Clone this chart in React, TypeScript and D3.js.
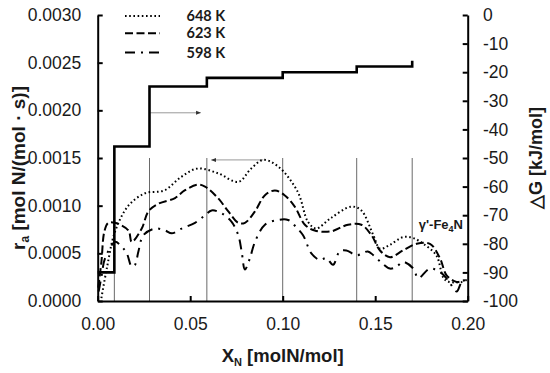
import { useEffect, useRef } from 'react';
import * as d3 from 'd3';

// Rate curves (X_N, r_a)
const x648 = [0.002, 0.005, 0.0094, 0.0166, 0.0256, 0.036, 0.045, 0.054, 0.065, 0.076, 0.083, 0.0895, 0.0976, 0.108, 0.1137, 0.118, 0.126, 0.137, 0.1425, 0.149, 0.1526, 0.158, 0.165, 0.1706, 0.176, 0.183, 0.187, 0.19, 0.1976];
const r648 = [0.00003, 0.00035, 0.00073, 0.001, 0.00113, 0.00116, 0.0013, 0.00139, 0.00134, 0.00125, 0.00139, 0.00148, 0.00141, 0.00115, 0.00083, 0.00076, 0.00087, 0.00099, 0.00095, 0.00069, 0.00055, 0.00059, 0.00067, 0.00066, 0.0006, 0.00048, 0.00024, 0.0002, 0.0002];

const x623 = [0.0003, 0.002, 0.0036, 0.0057, 0.0094, 0.0166, 0.0184, 0.0238, 0.0274, 0.0328, 0.0418, 0.047, 0.054, 0.058, 0.065, 0.0706, 0.076, 0.0796, 0.085, 0.0904, 0.0958, 0.101, 0.1065, 0.112, 0.1173, 0.126, 0.1353, 0.1425, 0.148, 0.1526, 0.158, 0.165, 0.1724, 0.1796, 0.185, 0.1886, 0.194, 0.1985];
const r623 = [0.00014, 0.00041, 0.00073, 0.00082, 0.00082, 0.00074, 0.00062, 0.00076, 0.00094, 0.00102, 0.00108, 0.00116, 0.00122, 0.0012, 0.00108, 0.00094, 0.00082, 0.00082, 0.00094, 0.00111, 0.00116, 0.00111, 0.00099, 0.0008, 0.00074, 0.00073, 0.0008, 0.0008, 0.00069, 0.00053, 0.00046, 0.00053, 0.0006, 0.0006, 0.00045, 0.00027, 0.0002, 0.00022];

const x598 = [0.0005, 0.002, 0.004, 0.0094, 0.012, 0.0157, 0.0184, 0.0202, 0.022, 0.0247, 0.031, 0.0364, 0.04, 0.0454, 0.0526, 0.058, 0.0616, 0.067, 0.0724, 0.076, 0.0778, 0.0796, 0.0823, 0.085, 0.0904, 0.0976, 0.1029, 0.107, 0.111, 0.1155, 0.12, 0.1236, 0.1272, 0.1308, 0.1344, 0.14, 0.146, 0.149, 0.1535, 0.158, 0.1616, 0.165, 0.1706, 0.1733, 0.1796, 0.186, 0.19, 0.194, 0.1968, 0.1995];
const r598 = [0.0001, 0.00025, 0.00045, 0.00062, 0.00059, 0.0005, 0.00036, 0.00038, 0.00052, 0.00069, 0.00076, 0.00074, 0.00071, 0.00076, 0.00082, 0.0009, 0.00095, 0.00092, 0.00083, 0.00069, 0.00052, 0.00033, 0.00045, 0.00062, 0.0008, 0.00085, 0.00085, 0.00078, 0.00069, 0.0005, 0.00043, 0.00045, 0.00038, 0.00052, 0.00053, 0.00048, 0.00052, 0.00048, 0.0004, 0.00034, 0.00036, 0.00041, 0.00034, 0.00024, 0.00034, 0.00029, 0.0002, 0.0001, 0.0002, 0.00022];

// Gibbs energy step (right axis)
const stepX = [0, 0.009, 0.028, 0.059, 0.1, 0.14, 0.17];
const stepG = [-90, -46, -25, -22, -20, -18, -16];

// phase boundaries
const boundaryX = [0.009, 0.028, 0.059, 0.1, 0.14, 0.17];

const legendLabels = ['648 K', '623 K', '598 K'];
const dashes = ['1.6,2.6', '8,3.5', '10,6,2,6'];

const App = () => {
  const svgRef = useRef(null);

  useEffect(() => {
    const width = 550;
    const height = 373;
    const left = 97.7, right = 467.7, top = 15, bottom = 301;
    const font = 'Liberation Sans, Arial, sans-serif';

    d3.select(svgRef.current).selectAll('*').remove();
    const svg = d3.select(svgRef.current).attr('width', width).attr('height', height);

    const x = d3.scaleLinear().domain([0, 0.2]).range([left, right]);
    const yL = d3.scaleLinear().domain([0, 0.003]).range([bottom, top]);
    const yR = d3.scaleLinear().domain([-100, 0]).range([bottom, top]);

    // boundary lines
    svg.selectAll('line.bound')
      .data(boundaryX)
      .join('line')
      .attr('x1', d => x(d)).attr('x2', d => x(d))
      .attr('y1', yL(0)).attr('y2', yL(0.0015))
      .attr('stroke', '#6a6a6a')
      .attr('stroke-width', 1);

    // arrows
    const defs = svg.append('defs');
    defs.append('marker')
      .attr('id', 'ah')
      .attr('viewBox', '0 0 10 10')
      .attr('refX', 9).attr('refY', 5)
      .attr('markerWidth', 5).attr('markerHeight', 5)
      .attr('orient', 'auto')
      .append('path').attr('d', 'M0,1L10,5L0,9Z').attr('fill', '#333');

    svg.append('line')
      .attr('x1', x(0.028)).attr('x2', x(0.0556))
      .attr('y1', yR(-34.2)).attr('y2', yR(-34.2))
      .attr('stroke', '#999').attr('stroke-width', 1)
      .attr('marker-end', 'url(#ah)');
    svg.append('line')
      .attr('x1', x(0.0895)).attr('x2', x(0.0615))
      .attr('y1', yL(0.00148)).attr('y2', yL(0.00148))
      .attr('stroke', '#999').attr('stroke-width', 1)
      .attr('marker-end', 'url(#ah)');

    // step line
    const step = d3.line<number>()
      .x(d => x(stepX[d]))
      .y(d => yR(stepG[d]))
      .curve(d3.curveStepAfter);
    svg.append('path')
      .attr('d', step(d3.range(stepX.length)))
      .attr('fill', 'none')
      .attr('stroke', '#000')
      .attr('stroke-width', 2.6);

    // rate curves
    const series = [[x648, r648], [x623, r623], [x598, r598]];
    series.forEach(([xs, rs], i) => {
      const line = d3.line<number>()
        .x(d => x(xs[d]))
        .y(d => yL(rs[d]))
        .curve(d3.curveCatmullRom.alpha(0.5));
      svg.append('path')
        .attr('d', line(d3.range(xs.length)))
        .attr('fill', 'none')
        .attr('stroke', '#000')
        .attr('stroke-width', 2)
        .attr('stroke-dasharray', dashes[i]);
    });

    // axes
    const styleAxis = g => {
      g.select('.domain').attr('stroke', '#000').attr('stroke-width', 2);
      g.selectAll('.tick line').attr('stroke', '#000').attr('stroke-width', 2);
      g.selectAll('text')
        .attr('fill', '#1a1a1a')
        .style('font-family', font)
        .style('font-size', '17.5px');
    };

    svg.append('g')
      .attr('transform', `translate(${left},0)`)
      .call(d3.axisLeft(yL).tickValues(d3.range(0, 0.00301, 0.0005)).tickFormat(d3.format('.4f'))
        .tickSizeInner(-5).tickSizeOuter(0).tickPadding(16.5))
      .call(styleAxis);

    svg.append('g')
      .attr('transform', `translate(${right},0)`)
      .call(d3.axisRight(yR).tickValues(d3.range(-100, 1, 10)).tickFormat(d => String(Math.round(d)))
        .tickSizeInner(-5).tickSizeOuter(0).tickPadding(15.3))
      .call(styleAxis);

    svg.append('g')
      .attr('transform', `translate(0,${bottom})`)
      .call(d3.axisBottom(x).tickValues([0, 0.05, 0.1, 0.15, 0.2]).tickFormat(d3.format('.2f'))
        .tickSizeInner(-5).tickSizeOuter(0).tickPadding(16.5))
      .call(styleAxis);

    // axis titles
    const lt = svg.append('text')
      .attr('transform', `translate(25,${(top + bottom) / 2 + 10}) rotate(-90)`)
      .attr('text-anchor', 'middle')
      .style('font-family', font).style('font-size', '19px').style('font-weight', 'bold')
      .attr('fill', '#1a1a1a');
    lt.append('tspan').text('r');
    lt.append('tspan').attr('dy', 4).style('font-size', '12px').text('a');
    lt.append('tspan').attr('dy', -4).text(' [mol N/(mol · s)]');

    svg.append('text')
      .attr('transform', `translate(542,158) rotate(-90)`)
      .attr('text-anchor', 'middle')
      .style('font-family', font).style('font-size', '18px').style('font-weight', 'bold')
      .attr('fill', '#1a1a1a')
      .text('△G [kJ/mol]');

    const xt = svg.append('text')
      .attr('x', (left + right) / 2 + 0)
      .attr('y', 362)
      .attr('text-anchor', 'middle')
      .style('font-family', font).style('font-size', '18.5px').style('font-weight', 'bold')
      .attr('fill', '#1a1a1a');
    xt.append('tspan').text('X');
    xt.append('tspan').attr('dy', 4).style('font-size', '11px').text('N');
    xt.append('tspan').attr('dy', -4).text(' [molN/mol]');

    // annotation
    const an = svg.append('text')
      .attr('x', 463).attr('y', 229)
      .attr('text-anchor', 'end')
      .style('font-family', font).style('font-size', '13px').style('font-weight', 'bold')
      .attr('fill', '#1a1a1a');
    an.append('tspan').text("γ'-Fe");
    an.append('tspan').attr('dy', 3).style('font-size', '9px').text('4');
    an.append('tspan').attr('dy', -3).text('N');

    // legend
    const legY = [16, 33.3, 52.5];
    legendLabels.forEach((lab, i) => {
      svg.append('line')
        .attr('x1', 125).attr('x2', 160)
        .attr('y1', legY[i]).attr('y2', legY[i])
        .attr('stroke', '#000').attr('stroke-width', 2)
        .attr('stroke-dasharray', dashes[i]);
      svg.append('text')
        .attr('x', 186.5).attr('y', legY[i] + 5)
        .style('font-family', 'Lato, sans-serif').style('font-size', '14.5px').style('font-weight', 'bold')
        .attr('fill', '#1a1a1a')
        .text(lab);
    });
  }, []);

  return (
    <div style={{ position: 'absolute', left: 0, top: 0, background: '#fff' }}>
      <svg ref={svgRef} style={{ display: 'block' }} />
    </div>
  );
};

export default App;
